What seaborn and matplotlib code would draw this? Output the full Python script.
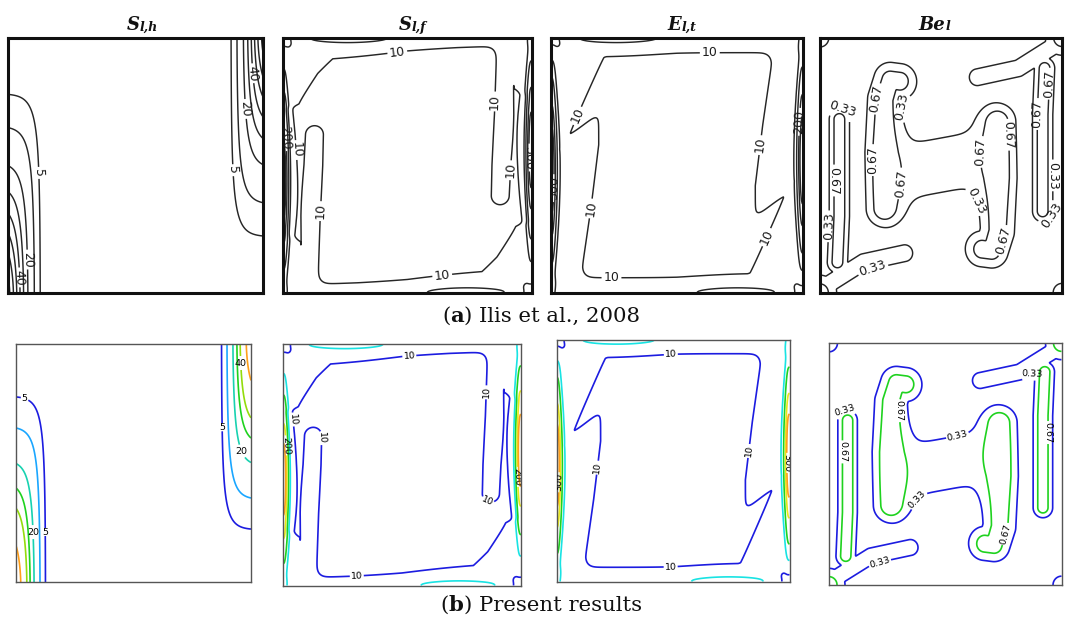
import numpy as np
import matplotlib
matplotlib.use("Agg")
import matplotlib.pyplot as plt
import seaborn as sns

sns.set_theme(style="white")
plt.rcParams["font.family"] = ["DejaVu Sans"]

# ---------------------------------------------------------------------------
# Figure geometry (pixels in a 1065 x 625 canvas)
# ---------------------------------------------------------------------------
FIG_W, FIG_H = 1065, 625
TOP_BOXES = [(8.3, 37.7, 263, 292.7), (283, 37.7, 531.7, 292.7),
             (551, 37.7, 803, 292.7), (820, 37.7, 1062, 292.7)]
BOTTOM_BOXES = [(16, 344, 251, 582), (283, 344, 521, 585.5),
                (556.5, 339.5, 789.5, 581.5), (829, 343, 1061.5, 585)]

TITLES_MAIN = ["S", "S", "E", "Be"]
TITLES_SUB = ["l,h", "l,f", "l,t", "l"]
CAPTION_A = ("a", " Ilis et al., 2008")
CAPTION_B = ("b", " Present results")

# ---------------------------------------------------------------------------
# Contour levels
# ---------------------------------------------------------------------------
SLH_LEVELS_TOP = [5, 10, 20, 30, 40, 50, 60, 70]
SLH_LEVELS = [5, 10, 20, 30, 40, 60]
SLH_COLORS = ["#1c1ce0", "#1aa6ff", "#18d2b0", "#1fd21f", "#93dc0c", "#ff9f1a"]
FRIC_LEVELS = [10, 50, 100, 200, 300]
FRIC_COLORS = ["#1c1ce0", "#19e3e3", "#1fd21f", "#e8e81a", "#ff9f1a"]
BE_LEVELS = [0.33, 0.67]
BE_COLORS = ["#1c1ce0", "#1fd21f"]

# ---------------------------------------------------------------------------
# S_l,h : thermal boundary layers on the two vertical walls
# ---------------------------------------------------------------------------
SLH_WALL_PEAK = 97.0      # wall value at the bottom corner
SLH_WALL_DECAY = 4.3      # decay of the wall value with height
SLH_WALL_SHAPE = 1.5
SLH_CORE = 0.035          # layer edge at the bottom
SLH_EDGE = 0.031          # sharpness of the layer edge

# ---------------------------------------------------------------------------
# S_l,f : friction entropy generation
# ---------------------------------------------------------------------------
SLF_BASE = 0.5
SLF_PLATEAU = 18.0
SLF_WALL_PEAK = 400.0
SLF_WALL_SCALE = 0.016
SLF_WALL_POWER = 3.0
SLF_WALL_MID = 0.44
SLF_WALL_SPREAD = 0.277
SLF_LID_PEAK = 60.0
SLF_LID_MID = 0.26
SLF_LID_SPREAD = 0.20
SLF_LID_SCALE = 0.02
SLF_LID_POWER = 2.5
SLF_LEFT_Y = [0.00, 0.10, 0.20, 0.26, 0.70, 0.74, 0.80, 0.86, 0.92, 1.00]
SLF_LEFT_DEPTH = [0.10, 0.09, 0.065, -0.05, -0.05, 0.06, 0.10, 0.14, 0.20, 0.24]
SLF_TOP_X = [0.00, 0.20, 0.30, 0.50, 0.70, 0.85, 1.00]
SLF_TOP_DEPTH = [0.12, 0.08, 0.07, 0.05, 0.04, 0.035, 0.03]
SLF_PLUME = [(0.105, -0.02), (0.115, 0.30), (0.125, 0.50), (0.128, 0.62)]
SLF_PLUME_HALF = 0.035
SLF_EDGE = 0.012
SLF_CORNER_R = 0.065
SLF_CORNER_DROP = 0.92

# ---------------------------------------------------------------------------
# E_l,t : local entropy generation
# ---------------------------------------------------------------------------
ELT_BASE = 0.5
ELT_PLATEAU = 18.0
ELT_WALL_PEAK = 400.0
ELT_WALL_SCALE = 0.016
ELT_WALL_POWER = 3.0
ELT_WALL_MID = 0.48
ELT_WALL_SPREAD = 0.29
ELT_LID_PEAK = 60.0
ELT_LID_MID = 0.26
ELT_LID_SPREAD = 0.20
ELT_LID_SCALE = 0.02
ELT_LID_POWER = 2.5
ELT_LEFT_Y = [0.00, 0.10, 0.34, 0.58, 0.80]
ELT_LEFT_DEPTH = [0.12, 0.125, 0.16, 0.19, 0.19]
ELT_LEFT_TOP = (0.08, 0.62, 0.78)      # anchor x, anchor y, slope of upper edge
ELT_CORNER_EDGE = (0.08, 0.64, 2.2)    # anchor x, anchor y, slope of lower edge
ELT_TOP_X = [0.00, 0.22, 0.50, 0.87, 1.00]
ELT_TOP_DEPTH = [0.15, 0.07, 0.06, 0.06, 0.06]
ELT_EDGE = 0.012
ELT_CORNER_R = 0.07
ELT_CORNER_DROP = 0.92

# ---------------------------------------------------------------------------
# Be_l : Bejan number ridges (centre lines, width, peak value)
# ---------------------------------------------------------------------------
BE_WALL_RIDGES = [
    ([(0.08, 0.68), (0.08, 0.30), (0.072, 0.12)], 0.030, 0.88),
    ([(0.03, 0.03), (0.18, 0.12), (0.35, 0.155)], 0.030, 0.60),
    ([(0.0, 0.0), (0.0, 0.0)], 0.050, 0.85),
    ([(0.0, 1.0), (0.0, 1.0)], 0.040, 0.50),
]
BE_LEG = ([(0.33, 0.83), (0.29, 0.835), (0.265, 0.76), (0.255, 0.55), (0.26, 0.33)], 0.05, 0.84)
BE_BAR = ([(0.27, 0.46), (0.73, 0.54)], 0.125, 0.47)
BE_BAR_SPAN = (0.27, 0.73, 0.025)

# ---------------------------------------------------------------------------
# Label anchors
# ---------------------------------------------------------------------------
SLH_LABELS_TOP = [(0.125, 0.47), (0.077, 0.13), (0.046, 0.06),
                  (0.954, 0.86), (0.923, 0.72), (0.875, 0.48)]
SLH_LABELS_BOTTOM = [(0.04, 0.78), (0.125, 0.21), (0.077, 0.21),
                     (0.954, 0.92), (0.875, 0.65), (0.95, 0.545)]
SLF_LABELS_TOP = [(0.46, 0.94), (0.85, 0.75), (0.92, 0.48), (0.06, 0.56),
                  (0.15, 0.32), (0.64, 0.07), (0.012, 0.61), (0.988, 0.53)]
SLF_LABELS_BOTTOM = [(0.53, 0.96), (0.85, 0.80), (0.85, 0.33), (0.07, 0.69),
                     (0.18, 0.61), (0.012, 0.58), (0.988, 0.45), (0.31, 0.04)]
ELT_LABELS_TOP = [(0.63, 0.95), (0.09, 0.70), (0.012, 0.41), (0.16, 0.33),
                  (0.82, 0.58), (0.988, 0.67), (0.85, 0.22), (0.24, 0.05)]
ELT_LABELS_BOTTOM = [(0.49, 0.95), (0.82, 0.54), (0.18, 0.47),
                     (0.012, 0.41), (0.988, 0.49), (0.49, 0.06)]
BE_LABELS_TOP = [(0.10, 0.74), (0.25, 0.76), (0.36, 0.73), (0.21, 0.52),
                 (0.32, 0.43), (0.08, 0.44), (0.045, 0.26), (0.22, 0.085),
                 (0.64, 0.36), (0.70, 0.55), (0.79, 0.62), (0.74, 0.21),
                 (0.94, 0.82), (0.92, 0.70), (0.96, 0.46), (0.96, 0.30)]
BE_LABELS_BOTTOM = [(0.05, 0.77), (0.075, 0.55), (0.22, 0.085), (0.29, 0.72),
                    (0.55, 0.63), (0.36, 0.37), (0.73, 0.22), (0.87, 0.88),
                    (0.92, 0.63)]

# ---------------------------------------------------------------------------
# Field construction
# ---------------------------------------------------------------------------
GRID = 321
axis = np.linspace(0.0, 1.0, GRID)
X, Y = np.meshgrid(axis, axis)


def sig(z):
    return 1.0 / (1.0 + np.exp(-np.clip(z, -60, 60)))


def turned(f):
    """Copy of a field turned by 180 degrees about the cavity centre."""
    return f[::-1, ::-1]


def polyline_distance(pts):
    pts = np.asarray(pts, float)
    d = np.full(X.shape, np.inf)
    for (x0, y0), (x1, y1) in zip(pts[:-1], pts[1:]):
        dx, dy = x1 - x0, y1 - y0
        l2 = dx * dx + dy * dy
        if l2 == 0:
            t = np.zeros_like(X)
        else:
            t = np.clip(((X - x0) * dx + (Y - y0) * dy) / l2, 0, 1)
        d = np.minimum(d, np.hypot(X - (x0 + t * dx), Y - (y0 + t * dy)))
    return d


def slh_field():
    log_drop = SLH_WALL_DECAY * Y ** SLH_WALL_SHAPE
    g = SLH_WALL_PEAK * np.exp(-log_drop)
    # the layer edge moves out as the wall value falls, keeping isolines upright
    xc = SLH_CORE + SLH_EDGE * log_drop
    half = g * sig(-(X - xc) / SLH_EDGE)
    return half + turned(half)


def wall_layer(dist, peak, scale, power):
    return peak / (1.0 + (np.maximum(dist, 0) / scale) ** power)


def slf_field():
    left_depth = np.interp(Y, SLF_LEFT_Y, SLF_LEFT_DEPTH)
    top_depth = np.interp(X, SLF_TOP_X, SLF_TOP_DEPTH)
    ind_left = sig((left_depth - X) / SLF_EDGE)
    ind_top = sig((top_depth - (1 - Y)) / SLF_EDGE)
    ind_plume = sig((SLF_PLUME_HALF - polyline_distance(SLF_PLUME)) / SLF_EDGE)
    plateau = SLF_PLATEAU * np.maximum(np.maximum(ind_left, ind_top), ind_plume)
    wall_amp = SLF_WALL_PEAK * np.exp(-((Y - SLF_WALL_MID) / SLF_WALL_SPREAD) ** 2)
    lid_amp = SLF_LID_PEAK * np.exp(-((X - SLF_LID_MID) / SLF_LID_SPREAD) ** 2)
    half = (plateau + wall_layer(X, wall_amp, SLF_WALL_SCALE, SLF_WALL_POWER)
            + wall_layer(1 - Y, lid_amp, SLF_LID_SCALE, SLF_LID_POWER))
    r = np.hypot(X, 1 - Y)
    half = half * (1 - SLF_CORNER_DROP * np.exp(-(r / SLF_CORNER_R) ** 2))
    return SLF_BASE + half + turned(half)


def elt_field():
    left_depth = np.interp(Y, ELT_LEFT_Y, ELT_LEFT_DEPTH)
    ax0, ay0, s0 = ELT_LEFT_TOP
    cx0, cy0, s1 = ELT_CORNER_EDGE
    ind_left = sig((left_depth - X) / ELT_EDGE) * sig((ay0 + s0 * (X - ax0) - Y) / ELT_EDGE)
    ind_corner = sig((Y - (cy0 + s1 * (X - cx0))) / ELT_EDGE)
    top_depth = np.interp(X, ELT_TOP_X, ELT_TOP_DEPTH)
    ind_top = sig((top_depth - (1 - Y)) / ELT_EDGE)
    plateau = ELT_PLATEAU * np.maximum(np.maximum(ind_left, ind_top), ind_corner)
    wall_amp = ELT_WALL_PEAK * np.exp(-((Y - ELT_WALL_MID) / ELT_WALL_SPREAD) ** 2)
    lid_amp = ELT_LID_PEAK * np.exp(-((X - ELT_LID_MID) / ELT_LID_SPREAD) ** 2)
    half = (plateau + wall_layer(X, wall_amp, ELT_WALL_SCALE, ELT_WALL_POWER)
            + wall_layer(1 - Y, lid_amp, ELT_LID_SCALE, ELT_LID_POWER))
    r = np.hypot(X, 1 - Y)
    half = half * (1 - ELT_CORNER_DROP * np.exp(-(r / ELT_CORNER_R) ** 2))
    return ELT_BASE + half + turned(half)


def ridge(pts, width, peak):
    d = polyline_distance(pts)
    return peak * np.exp(-0.5 * (d / width) ** 2)


def be_field():
    outer = np.zeros_like(X)
    for pts, width, peak in BE_WALL_RIDGES:
        r = ridge(pts, width, peak)
        outer = np.maximum(outer, np.maximum(r, turned(r)))
    leg = ridge(*BE_LEG)
    x0, x1, soft = BE_BAR_SPAN
    bar = ridge(*BE_BAR) * sig((X - x0) / soft) * sig((x1 - X) / soft)
    central = leg + turned(leg) + bar
    return np.maximum(outer, central)


FIELDS = [slh_field(), slf_field(), elt_field(), be_field()]


def fmt_level(v):
    return f"{v:g}" if v >= 1 else f"{v:.2f}"


# ---------------------------------------------------------------------------
# Drawing
# ---------------------------------------------------------------------------
fig = plt.figure(figsize=(FIG_W / 100, FIG_H / 100), dpi=100)
fig.patch.set_facecolor("white")


def add_panel(box, edge_color, edge_width):
    x0, y0, x1, y1 = box
    ax = fig.add_axes([x0 / FIG_W, 1 - y1 / FIG_H, (x1 - x0) / FIG_W, (y1 - y0) / FIG_H])
    ax.set_xlim(0, 1)
    ax.set_ylim(0, 1)
    ax.set_xticks([])
    ax.set_yticks([])
    ax.set_facecolor("white")
    for sp in ax.spines.values():
        sp.set_visible(True)
        sp.set_color(edge_color)
        sp.set_linewidth(edge_width)
    return ax


top_specs = [
    (SLH_LEVELS_TOP, SLH_LABELS_TOP),
    (FRIC_LEVELS, SLF_LABELS_TOP),
    (FRIC_LEVELS, ELT_LABELS_TOP),
    (BE_LEVELS, BE_LABELS_TOP),
]
bottom_specs = [
    (SLH_LEVELS, SLH_COLORS, SLH_LABELS_BOTTOM, False),
    (FRIC_LEVELS, FRIC_COLORS, SLF_LABELS_BOTTOM, True),
    (FRIC_LEVELS, FRIC_COLORS, ELT_LABELS_BOTTOM, True),
    (BE_LEVELS, BE_COLORS, BE_LABELS_BOTTOM, True),
]

for i, (box, field, (levels, labels)) in enumerate(zip(TOP_BOXES, FIELDS, top_specs)):
    ax = add_panel(box, "#111111", 2.2)
    cs = ax.contour(X, Y, field, levels=levels, colors="#262626", linewidths=1.05)
    ax.clabel(cs, manual=labels, fmt=fmt_level, fontsize=9, inline=True,
              inline_spacing=2, colors="#1a1a1a")
    cx = (box[0] + box[2]) / 2 / FIG_W
    ty = 1 - 30.5 / FIG_H
    main, sub = TITLES_MAIN[i], TITLES_SUB[i]
    fig.text(cx + 0.004, ty, main, ha="right", va="baseline", fontsize=13,
             family="DejaVu Serif", weight="bold", style="italic", color="#111111")
    fig.text(cx + 0.004, ty, sub, ha="left", va="baseline", fontsize=9,
             family="DejaVu Serif", weight="bold", style="italic", color="#111111")

for box, field, (levels, colors, labels, follow) in zip(BOTTOM_BOXES, FIELDS, bottom_specs):
    ax = add_panel(box, "#555555", 1.0)
    cs = ax.contour(X, Y, field, levels=levels, colors=colors, linewidths=1.2)
    texts = ax.clabel(cs, manual=labels, fmt=fmt_level, fontsize=6.8, inline=True,
                      inline_spacing=1, colors="black")
    if not follow:
        for t in texts:
            t.set_rotation(0)


def draw_caption(y_px, center_px, letter, rest):
    parts = [("(", "normal"), (letter, "bold"), (")" + rest, "normal")]
    renderer = fig.canvas.get_renderer()
    widths = []
    texts = []
    for s, w in parts:
        t = fig.text(0, 1 - y_px / FIG_H, s, ha="left", va="baseline",
                     fontsize=15.3, family="DejaVu Serif", weight=w, color="#111111")
        texts.append(t)
        widths.append(t.get_window_extent(renderer).width)
    x = center_px - sum(widths) / 2
    for t, w in zip(texts, widths):
        t.set_x(x / FIG_W)
        x += w


draw_caption(322, 541, *CAPTION_A)
draw_caption(611, 541, *CAPTION_B)

fig.savefig("out.png", dpi=100, facecolor="white")
